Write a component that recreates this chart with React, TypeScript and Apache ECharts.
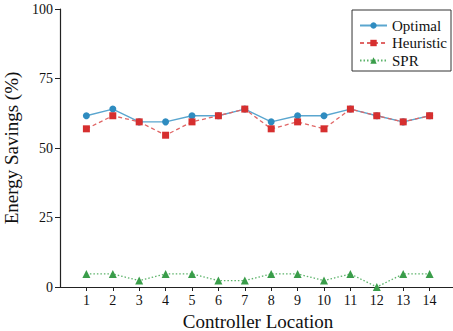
import React, { useEffect, useRef } from "react";
import * as echarts from "echarts";

const locations = [1, 2, 3, 4, 5, 6, 7, 8, 9, 10, 11, 12, 13, 14];
const optimal = [61.6, 64.0, 59.4, 59.4, 61.6, 61.6, 64.0, 59.4, 61.6, 61.6, 64.0, 61.6, 59.4, 61.6];
const heuristic = [56.9, 61.6, 59.4, 54.6, 59.4, 61.6, 64.0, 56.9, 59.4, 56.9, 64.0, 61.6, 59.4, 61.6];
const spr = [4.7, 4.7, 2.3, 4.7, 4.7, 2.3, 2.3, 4.7, 4.7, 2.3, 4.7, 0, 4.7, 4.7];
const yTicks = [0, 25, 50, 75, 100];

const FONT = "'Liberation Serif', 'Times New Roman', 'DejaVu Serif', serif";

export default function App() {
  const ref = useRef<HTMLDivElement>(null);
  useEffect(() => {
    if (!ref.current) return;
    const chart = echarts.init(ref.current, undefined, { renderer: "svg" });
    const pair = (arr: number[]) => locations.map((x, i) => [x, arr[i]]);
    chart.setOption({
      animation: false,
      textStyle: { fontFamily: FONT },
      grid: { left: 60, right: -3, top: 9, bottom: 44, outerBoundsMode: "none", containLabel: false },
      legend: {
        orient: "vertical",
        right: 2,
        top: 10,
        backgroundColor: "#fff",
        borderColor: "#333",
        borderWidth: 1,
        borderRadius: 0,
        padding: [8, 4, 3, 7],
        itemGap: 2.5,
        itemWidth: 27,
        itemHeight: 8,
        textStyle: { fontFamily: FONT, fontSize: 15, color: "#111" },
        data: ["Optimal", "Heuristic", "SPR"],
      },
      xAxis: {
        type: "value",
        min: 0,
        max: 15,
        interval: 1,
        name: "Controller Location",
        nameLocation: "middle",
        nameGap: 19,
        nameTextStyle: { fontFamily: FONT, fontSize: 19, color: "#111" },
        splitLine: { show: false },
        axisLine: { show: true, lineStyle: { color: "#222", width: 1.2 } },
        axisTick: { show: true, customValues: locations, length: 4, lineStyle: { color: "#222" } },
        axisLabel: { customValues: locations, fontFamily: FONT, fontSize: 14, color: "#111", margin: 6 },
      },
      yAxis: {
        type: "value",
        min: 0,
        max: 100,
        interval: 25,
        name: "Energy Savings (%)",
        nameLocation: "middle",
        nameGap: 35,
        nameTextStyle: { fontFamily: FONT, fontSize: 19, color: "#111" },
        splitLine: { show: false },
        axisLine: { show: true, lineStyle: { color: "#222", width: 1.2 } },
        axisTick: { show: true, length: 5, lineStyle: { color: "#222" } },
        axisLabel: { fontFamily: FONT, fontSize: 14, color: "#111", margin: 7,
          customValues: yTicks },
      },
      series: [
        {
          name: "Optimal",
          type: "line",
          data: pair(optimal),
          symbol: "circle",
          symbolSize: 7,
          itemStyle: { color: "#2f8cc0" },
          lineStyle: { color: "#5aa6cf", width: 1.3 },
        },
        {
          name: "Heuristic",
          type: "line",
          data: pair(heuristic),
          symbol: "rect",
          symbolSize: 7,
          itemStyle: { color: "#d62f2f" },
          lineStyle: { color: "#e06565", width: 1.3, type: [4, 3] },
        },
        {
          name: "SPR",
          type: "line",
          data: pair(spr),
          symbol: "triangle",
          symbolSize: 8,
          itemStyle: { color: "#3a9d4a" },
          lineStyle: { color: "#5cb36a", width: 1.3, type: [1.5, 2] },
        },
      ],
    });
    return () => chart.dispose();
  }, []);
  return <div ref={ref} style={{ position: "absolute", left: 0, top: 0, width: 453, height: 331 }} />;
}
